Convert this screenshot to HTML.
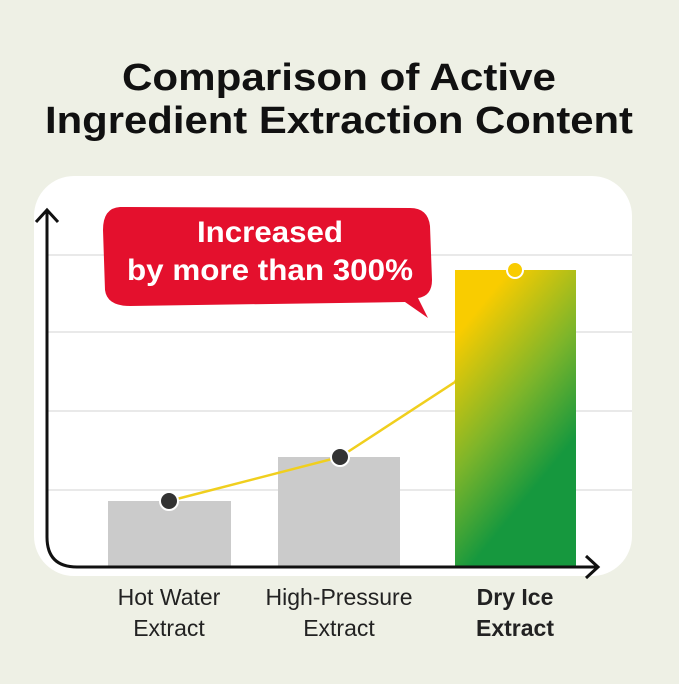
<!DOCTYPE html><html><head><style>
body{margin:0;width:679px;height:679px;background:#eef0e5;font-family:"Liberation Sans",sans-serif;overflow:hidden}
</style></head><body>
<svg width="679" height="679" xmlns="http://www.w3.org/2000/svg">
<defs><linearGradient id="g" x1="0" y1="0" x2="0.5" y2="1"><stop offset="0.18" stop-color="#f9cc00"/><stop offset="0.55" stop-color="#7db52a"/><stop offset="0.85" stop-color="#16983e"/></linearGradient></defs>
<text x="339" y="90" text-anchor="middle" font-size="38" font-weight="bold" fill="#111" textLength="434" lengthAdjust="spacingAndGlyphs">Comparison of Active</text>
<text x="339" y="133" text-anchor="middle" font-size="38" font-weight="bold" fill="#111" textLength="588" lengthAdjust="spacingAndGlyphs">Ingredient Extraction Content</text>
<rect x="34" y="176" width="598" height="400" rx="40" fill="#fff"/>
<g stroke="#e2e2e2" stroke-width="1.5"><line x1="48" y1="255" x2="632" y2="255"/><line x1="48" y1="332" x2="632" y2="332"/><line x1="48" y1="411" x2="632" y2="411"/><line x1="48" y1="490" x2="632" y2="490"/></g>
<rect x="108" y="501" width="123" height="66" fill="#cbcbcb"/>
<rect x="278" y="457" width="122" height="110" fill="#cbcbcb"/>
<polyline points="169,501 340,457 455,382 515,270" fill="none" stroke="#f0cf1e" stroke-width="2.5"/>
<rect x="455" y="270" width="121" height="297" fill="url(#g)"/>
<circle cx="169" cy="501" r="9" fill="#333" stroke="#fff" stroke-width="2"/>
<circle cx="340" cy="457" r="9" fill="#333" stroke="#fff" stroke-width="2"/>
<circle cx="515" cy="270" r="8" fill="#f9cc00" stroke="#fff" stroke-width="2"/>
<path d="M47 212 V537 Q47 567 77 567 H596" fill="none" stroke="#111" stroke-width="3"/>
<path d="M36 222 L47 210 L58 222" fill="none" stroke="#111" stroke-width="3"/>
<path d="M586 556 L598 567 L586 578" fill="none" stroke="#111" stroke-width="3"/>
<path d="M120 207 Q103 208 103 230 L105 290 Q107 306 130 306 L405 302 L428 318 L418 298 Q432 296 432 280 L430 226 Q428 208 410 208 Z" fill="#e4102d"/>
<text x="270" y="242" text-anchor="middle" font-size="30" font-weight="bold" fill="#fff" textLength="146" lengthAdjust="spacingAndGlyphs">Increased</text>
<text x="270" y="280" text-anchor="middle" font-size="30" font-weight="bold" fill="#fff" textLength="286" lengthAdjust="spacingAndGlyphs">by more than 300%</text>
<g font-size="23" text-anchor="middle" fill="#222"><text x="169" y="605">Hot Water</text><text x="169" y="636">Extract</text><text x="339" y="605">High-Pressure</text><text x="339" y="636">Extract</text><text x="515" y="605" font-weight="bold">Dry Ice</text><text x="515" y="636" font-weight="bold">Extract</text></g>
</svg></body></html>
